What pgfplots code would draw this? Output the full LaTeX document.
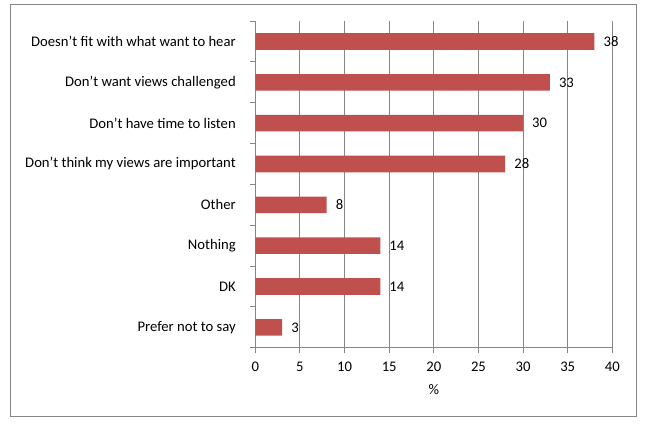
\documentclass[border=0pt]{standalone}
\usepackage{fontspec}
\setmainfont{Carlito}
\usepackage{pgfplots}
\pgfplotsset{compat=1.18}
\definecolor{barred}{HTML}{C0504D}
\definecolor{gridgrey}{HTML}{868686}

\begin{document}
\fontsize{11}{13}\selectfont
\begin{tikzpicture}
\useasboundingbox (0,0) rectangle (485.25pt,318pt);
\draw[gridgrey, line width=0.75pt] (7.9pt,5.6pt) rectangle (477.4pt,314.6pt);
\begin{axis}[
    at={(191.5pt,57.2pt)}, anchor=south west,
    scale only axis,
    width=267.75pt, height=245pt,
    xbar,
    bar width=12.45pt,
    xmin=0, xmax=40,
    xtick={0,5,...,40},
    ymin=-0.5, ymax=7.5,
    y dir=reverse,
    ytick={0,...,7},
    yticklabels={Doesn’t fit with what want to hear, Don’t want views challenged, Don’t have time to listen, Don’t think my views are important, Other, Nothing, DK, Prefer not to say},
    minor ytick={-0.5,0.5,...,7.5},
    axis x line*=bottom, axis y line*=left,
    axis line style={gridgrey, line width=0.75pt},
    tick align=outside,
    major tick length=4pt,
    minor tick length=4pt,
    ytick style={draw=none},
    minor y tick style={gridgrey, line width=0.75pt, draw=gridgrey},
    xtick style={gridgrey, line width=0.75pt},
    xmajorgrids,
    grid style={gridgrey, line width=0.75pt},
    /pgf/number format/assume math mode=true,
    ticklabel style={font=\fontsize{11}{13}\selectfont},
    yticklabel style={inner sep=0pt, xshift=-10.5pt},
    xticklabel style={yshift=-3pt},
    xlabel={\%},
    xlabel style={font=\fontsize{11}{13}\selectfont, yshift=-2pt},
    nodes near coords,
    every node near coord/.append style={font=\fontsize{11}{13}\selectfont, black, anchor=west, xshift=3pt},
]
\addplot[fill=barred, draw=none] coordinates {
    (38,0) (33,1) (30,2) (28,3) (8,4) (14,5) (14,6) (3,7)
};
\end{axis}
\end{tikzpicture}
\end{document}
